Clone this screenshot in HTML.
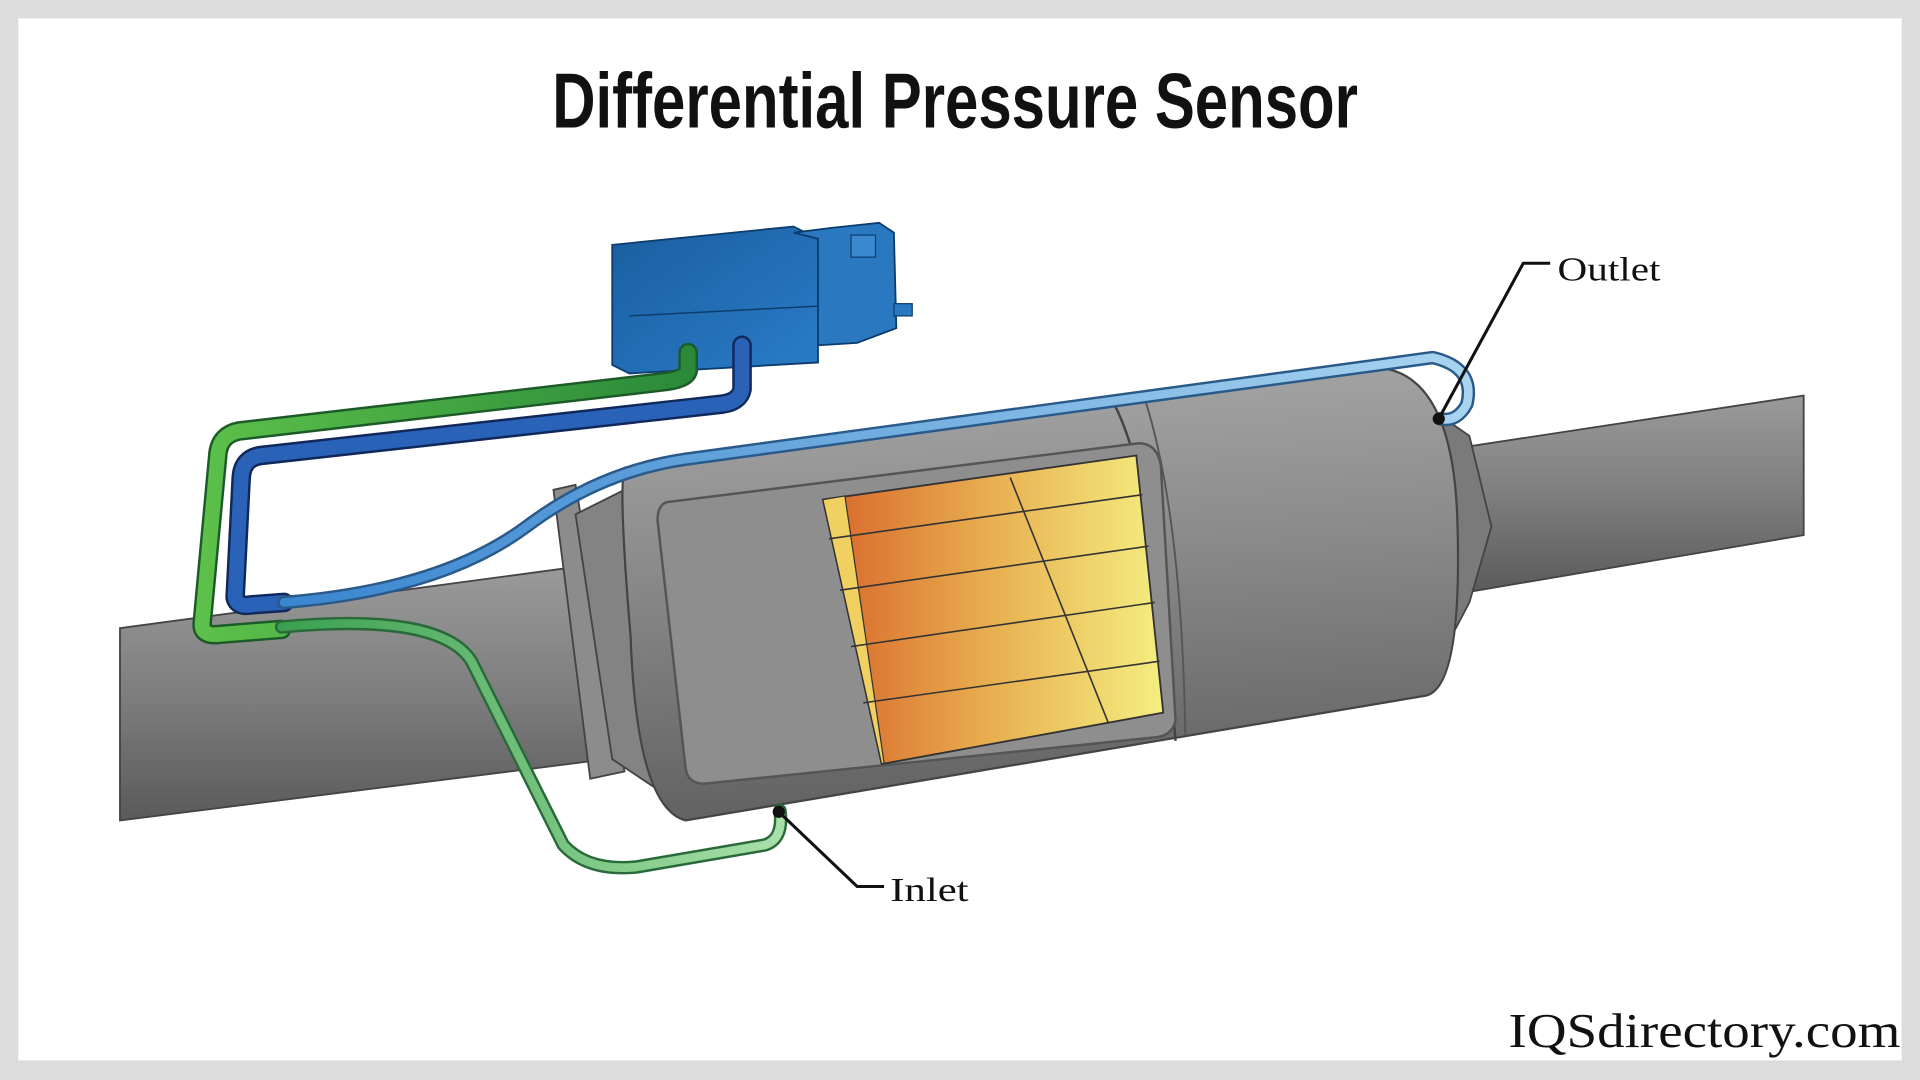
<!DOCTYPE html>
<html><head><meta charset="utf-8"><style>
html,body{margin:0;padding:0;background:#dcdcdc;}
svg{display:block}
</style></head><body>
<svg width="1920" height="1080" viewBox="0 0 1568 882" xmlns="http://www.w3.org/2000/svg">
<defs>
<linearGradient id="pipe" x1="0" y1="0" x2="0" y2="1">
<stop offset="0" stop-color="#9a9a9a"/><stop offset="0.5" stop-color="#7e7e7e"/><stop offset="1" stop-color="#5a5a5a"/></linearGradient>
<linearGradient id="body" x1="0" y1="0" x2="0.1" y2="1">
<stop offset="0" stop-color="#a8a8a8"/><stop offset="0.45" stop-color="#8a8a8a"/><stop offset="1" stop-color="#626262"/></linearGradient>
<linearGradient id="filt" x1="0" y1="0" x2="1" y2="0">
<stop offset="0" stop-color="#d8662a"/><stop offset="0.5" stop-color="#e8b050"/><stop offset="1" stop-color="#f4ee80"/></linearGradient>
<linearGradient id="blue" x1="0" y1="0" x2="1" y2="1">
<stop offset="0" stop-color="#1a5ea0"/><stop offset="1" stop-color="#2a7cc8"/></linearGradient>
<linearGradient id="gt" x1="0" y1="0" x2="1" y2="0">
<stop offset="0" stop-color="#5cc04a"/><stop offset="1" stop-color="#2a8a3a"/></linearGradient>
<linearGradient id="lb" x1="0" y1="0" x2="1" y2="0">
<stop offset="0" stop-color="#3a86d0"/><stop offset="1" stop-color="#a8d4f0"/></linearGradient>
<linearGradient id="lg" x1="0" y1="0" x2="1" y2="0">
<stop offset="0" stop-color="#3aa050"/><stop offset="1" stop-color="#a8e0a8"/></linearGradient>
</defs>
<rect x="15" y="15" width="1538" height="851" fill="#fff"/>
<text x="780" y="104" text-anchor="middle" font-family="Liberation Sans Narrow, Liberation Sans, sans-serif" font-weight="bold" font-size="64" textLength="658" lengthAdjust="spacingAndGlyphs" fill="#111">Differential Pressure Sensor</text>

<polygon points="98,513 470,463 480,622 98,670" fill="url(#pipe)" stroke="#444" stroke-width="1.5"/>
<polygon points="1190,366 1473,323 1473,437 1190,485" fill="url(#pipe)" stroke="#444" stroke-width="1.5"/>
<polygon points="1120,300 1200,356 1218,430 1200,492 1160,568 1080,560 1080,300" fill="#7a7a7a" stroke="#444" stroke-width="1.5"/>
<polygon points="452,400 470,396 510,630 482,636" fill="#8c8c8c" stroke="#444" stroke-width="1.5"/>
<polygon points="470,420 520,395 560,660 500,620" fill="#838383" stroke="#444" stroke-width="1.5"/>
<path d="M510,382 L1120,300 Q1185,300 1190,420 Q1195,560 1165,568 L560,670 Q520,660 515,520 Q505,400 510,382 Z" fill="url(#body)" stroke="#444" stroke-width="1.8"/>
<path d="M910,330 Q945,400 960,605" fill="none" stroke="#444" stroke-width="2"/>
<path d="M935,326 Q965,420 968,600" fill="none" stroke="#555" stroke-width="1.5"/>
<path d="M545,410 L930,362 Q945,362 948,380 L960,588 Q958,600 945,602 L575,640 Q562,640 560,628 L537,425 Q537,412 545,410 Z" fill="#8e8e8e" stroke="#555" stroke-width="2"/>
<polygon points="672,408 928,372 950,582 720,624" fill="url(#filt)" stroke="#333" stroke-width="1.5"/>
<polygon points="672,408 690,405 722,623 720,624" fill="#f0d060" stroke="#333" stroke-width="1"/>
<g stroke="#333" stroke-width="1.3" fill="none">
<line x1="677" y1="440" x2="933" y2="404"/>
<line x1="686" y1="482" x2="938" y2="446"/>
<line x1="695" y1="528" x2="943" y2="492"/>
<line x1="705" y1="574" x2="947" y2="540"/>
<line x1="825" y1="390" x2="905" y2="590"/>
</g>
<polygon points="500,200 648,185 668,195 668,296 514,305 500,298" fill="url(#blue)" stroke="#0d3d6d" stroke-width="1.5"/>
<line x1="514" y1="258" x2="668" y2="250" stroke="#0d3d6d" stroke-width="1.2"/>
<polygon points="648,190 680,186 718,182 730,190 732,268 700,280 668,282 668,195" fill="#2a78c0" stroke="#0d3d6d" stroke-width="1.5"/>
<rect x="695" y="192" width="20" height="18" fill="#3a88d0" stroke="#0d3d6d"/>
<rect x="730" y="248" width="15" height="10" fill="#2a78c0" stroke="#0d3d6d"/>
<g fill="none" stroke-linecap="round" stroke-linejoin="round">
<path d="M562,288 L562,303 Q560,310 540,312 L195,352 Q180,355 178,370 L165,510 Q165,520 180,518 L230,514" stroke="#1c5a28" stroke-width="16"/>
<path d="M562,288 L562,303 Q560,310 540,312 L195,352 Q180,355 178,370 L165,510 Q165,520 180,518 L230,514" stroke="url(#gt)" stroke-width="12"/>
<path d="M606,282 L606,318 Q604,328 590,330 L213,372 Q198,374 197,390 L192,488 Q194,496 205,494 L232,492" stroke="#10285a" stroke-width="16"/>
<path d="M606,282 L606,318 Q604,328 590,330 L213,372 Q198,374 197,390 L192,488 Q194,496 205,494 L232,492" stroke="#2a62b8" stroke-width="12"/>
<path d="M232,492 Q360,482 430,430 Q490,385 560,375 L1170,292 Q1205,300 1198,330 Q1190,345 1176,342" stroke="#2a5a8a" stroke-width="11"/>
<path d="M232,492 Q360,482 430,430 Q490,385 560,375 L1170,292 Q1205,300 1198,330 Q1190,345 1176,342" stroke="url(#lb)" stroke-width="7"/>
<path d="M230,512 Q360,500 385,540 L460,690 Q480,712 520,708 L625,690 Q640,685 637,662" stroke="#2a6a3a" stroke-width="11"/>
<path d="M230,512 Q360,500 385,540 L460,690 Q480,712 520,708 L625,690 Q640,685 637,662" stroke="url(#lg)" stroke-width="7"/>
</g>
<g stroke="#111" stroke-width="2.5" fill="none">
<polyline points="1266,215 1244,215 1175,342"/>
<polyline points="722,724 700,724 636,663"/>
</g>
<circle cx="1175" cy="342" r="5" fill="#111"/>
<circle cx="636" cy="663" r="5" fill="#111"/>
<text x="1272" y="229" font-family="Liberation Serif, serif" font-size="28" fill="#111" textLength="84" lengthAdjust="spacingAndGlyphs">Outlet</text>
<text x="727" y="736" font-family="Liberation Serif, serif" font-size="28" fill="#111" textLength="64" lengthAdjust="spacingAndGlyphs">Inlet</text>
<text x="1552" y="855" text-anchor="end" font-family="Liberation Serif, serif" font-size="40" fill="#111" textLength="320" lengthAdjust="spacingAndGlyphs">IQSdirectory.com</text>
</svg>
</body></html>
